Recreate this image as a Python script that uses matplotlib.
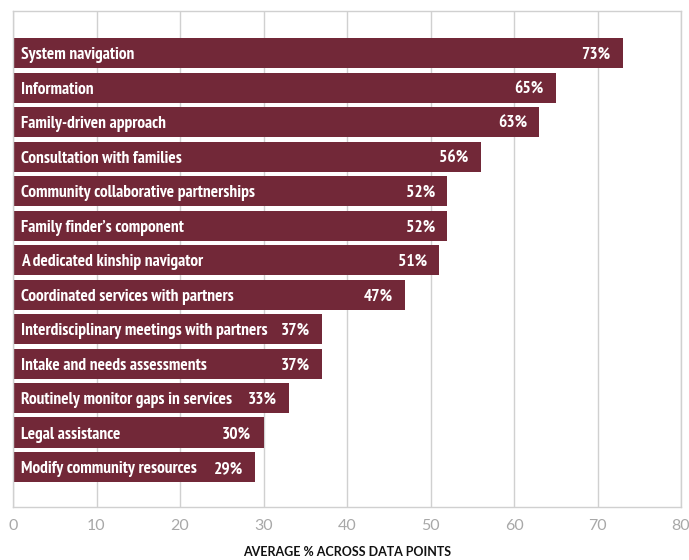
import matplotlib.pyplot as plt

bar_font = ['PT Sans Narrow', 'DejaVu Sans']
axis_font = ['Lato', 'DejaVu Sans']

categories = [
    'System navigation',
    'Information',
    'Family-driven approach',
    'Consultation with families',
    'Community collaborative partnerships',
    "Family finder\u2019s component",
    'A dedicated kinship navigator',
    'Coordinated services with partners',
    'Interdisciplinary meetings with partners',
    'Intake and needs assessments',
    'Routinely monitor gaps in services',
    'Legal assistance',
    'Modify community resources',
]
values = [73, 65, 63, 56, 52, 52, 51, 47, 37, 37, 33, 30, 29]
x_ticks = [0, 10, 20, 30, 40, 50, 60, 70, 80]

bar_color = '#722838'
grid_color = '#d0d0d0'

fig = plt.figure(figsize=(6.89, 5.6), dpi=100)
ax = fig.add_axes([13 / 689, 1 - 507 / 560, 668 / 689, 496 / 560])

pos = list(range(len(categories)))
ax.barh(pos, values, height=0.87, color=bar_color, zorder=2)

# names at the left end of each bar, percentages at the right end
for y, name, v in zip(pos, categories, values):
    ax.text(1.0, y + 0.06, name, color='white', fontsize=12.5, fontweight='bold',
            family=bar_font, ha='left', va='center', zorder=3)
    ax.text(v - 1.45, y + 0.06, f'{v}%', color='white', fontsize=12.5,
            fontweight='bold', family=bar_font, ha='right', va='center', zorder=3)

ax.set_xlim(0, 80)
ax.set_ylim(len(categories) - 1 + 1.16, -1.22)
ax.set_xticks(x_ticks)
ax.set_yticks([])
ax.xaxis.grid(True, color=grid_color, linewidth=1, zorder=0)
for s in ax.spines.values():
    s.set_color(grid_color)
    s.set_linewidth(1)
ax.tick_params(axis='x', length=0, pad=9, labelsize=11.5, labelcolor='#a8a8a8')
for lbl in ax.get_xticklabels():
    lbl.set_family(axis_font)

fig.text(347 / 689, 1 - 552 / 560, 'AVERAGE % ACROSS DATA POINTS', ha='center',
         va='center', fontsize=9, fontweight='bold', color='#111111',
         family=axis_font)

fig.savefig('out.png', dpi=100)
